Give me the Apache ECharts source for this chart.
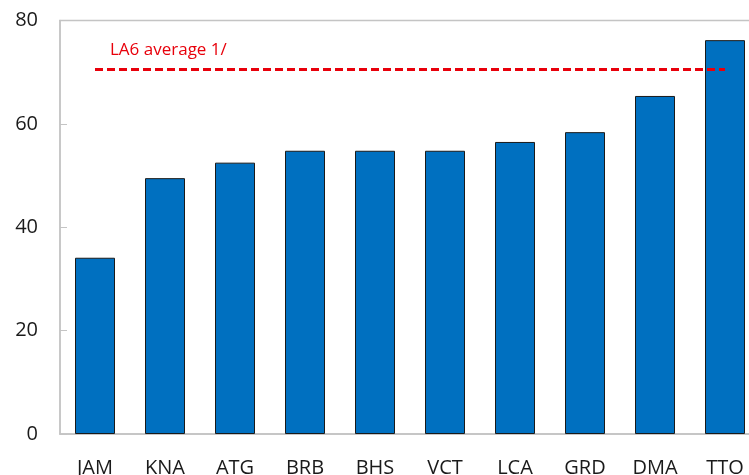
<!DOCTYPE html>
<html>
<head>
<meta charset="utf-8">
<script src="https://cdn.jsdelivr.net/npm/echarts@6/dist/echarts.min.js"></script>
<style>
  html, body { margin: 0; padding: 0; background: #fff; }
  #chart { width: 749px; height: 475px; }
</style>
</head>
<body>
<div id="chart"></div>
<script>
var categories = ['JAM', 'KNA', 'ATG', 'BRB', 'BHS', 'VCT', 'LCA', 'GRD', 'DMA', 'TTO'];
var values = [34.1, 49.5, 52.5, 54.8, 54.8, 54.8, 56.5, 58.4, 65.4, 76.2];
var averageValue = 70.6;
var averageLabel = 'LA6 average 1/';
var yTicks = [0, 20, 40, 60, 80];

var chart = echarts.init(document.getElementById('chart'));
var font = "'Open Sans', 'Noto Sans', sans-serif";

var option = {
    animation: false,
    textStyle: { fontFamily: font },
    grid: {
        left: 60,
        top: 20.5,
        width: 700,
        height: 413.5,
        outerBoundsMode: 'none',
        containLabel: false,
        show: true,
        borderColor: '#c4c4c4',
        borderWidth: 1.5,
        backgroundColor: 'transparent'
    },
    graphic: [{
        type: 'text',
        left: 110,
        top: 42,
        style: {
            text: averageLabel,
            fill: '#e8000b',
            font: "17px 'Open Sans', 'Noto Sans', sans-serif"
        }
    }],
    xAxis: {
        type: 'category',
        data: categories,
        axisLine: { lineStyle: { color: '#c4c4c4', width: 1.5 } },
        axisTick: { inside: true, length: 5, lineStyle: { color: '#c4c4c4' } },
        axisLabel: { color: '#1a1a1a', fontSize: 20, margin: 24, fontFamily: font }
    },
    yAxis: {
        type: 'value',
        min: yTicks[0],
        max: yTicks[yTicks.length - 1],
        interval: 20,
        axisLine: { show: true, lineStyle: { color: '#c4c4c4', width: 1.5 } },
        axisTick: { show: true, inside: true, length: 7, lineStyle: { color: '#c4c4c4' } },
        splitLine: { show: false },
        axisLabel: { color: '#1a1a1a', fontSize: 20, margin: 22, fontFamily: font }
    },
    series: [{
        type: 'bar',
        data: values,
        barWidth: 40,
        itemStyle: {
            color: '#0070c0',
            borderColor: '#1a1a1a',
            borderWidth: 1
        },
        markLine: {
            silent: true,
            symbol: 'none',
            label: { show: false },
            lineStyle: { color: '#e8000b', width: 3, type: [8, 4] },
            data: [[
                { coord: [0, averageValue] },
                { coord: [categories.length - 1, averageValue] }
            ]]
        }
    }]
};

chart.setOption(option);
</script>
</body>
</html>
